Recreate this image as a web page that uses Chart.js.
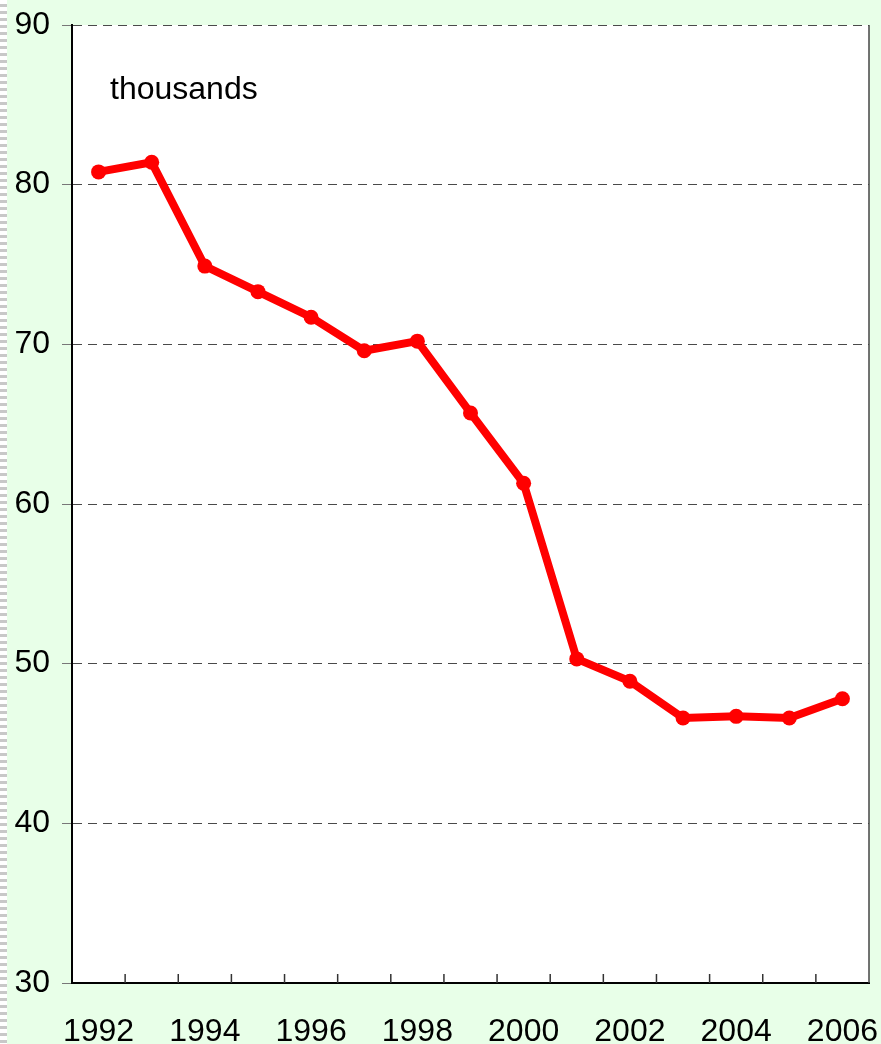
<!DOCTYPE html>
<html>
<head>
<meta charset="utf-8">
<script src="https://cdn.jsdelivr.net/npm/chart.js@4.4.0/dist/chart.umd.min.js"></script>
<style>
  body { margin: 0; background: #e8ffe8; }
  #wrap { position: relative; width: 881px; height: 1044px; }
  #strip {
    position: absolute; left: 0; top: 0; width: 7px; height: 1044px;
    background: repeating-linear-gradient(to bottom, #fff 0px, #fff 4px, #c8c8c8 4px, #c8c8c8 7px);
  }
  canvas { position: absolute; left: 0; top: 0; }
</style>
</head>
<body>
<div id="wrap">
  <div id="strip"></div>
  <canvas id="grafico" width="881" height="1044"></canvas>
</div>
<script>
const anos = ['1992', '1993', '1994', '1995', '1996', '1997', '1998', '1999',
  '2000', '2001', '2002', '2003', '2004', '2005', '2006'];
const valores = [80.8, 81.4, 74.9, 73.3, 71.7, 69.6, 70.2, 65.7,
  61.3, 50.3, 48.9, 46.6, 46.7, 46.6, 47.8];
const yMin = 30;
const yMax = 90;
const yPasso = 10;
const unidade = 'thousands';

const fonte = "'Liberation Sans', Arial, sans-serif";

// fundo branco da area do grafico, borda direita e marcas internas do eixo x
const moldura = {
  id: 'moldura',
  beforeDraw(chart) {
    const { ctx, chartArea } = chart;
    ctx.save();
    ctx.fillStyle = '#fff';
    ctx.fillRect(chartArea.left, chartArea.top, chartArea.right - chartArea.left, chartArea.bottom - chartArea.top);
    ctx.restore();
  },
  afterDraw(chart) {
    const { ctx, chartArea } = chart;
    const x = chart.scales.x;
    ctx.save();
    ctx.strokeStyle = '#444';
    ctx.lineWidth = 1.5;
    ctx.beginPath();
    ctx.moveTo(chartArea.right, chartArea.top);
    ctx.lineTo(chartArea.right, chartArea.bottom);
    ctx.stroke();
    ctx.strokeStyle = '#333';
    ctx.lineWidth = 1.5;
    for (let i = 1; i < anos.length; i++) {
      const px = (x.getPixelForValue(i - 1) + x.getPixelForValue(i)) / 2;
      ctx.beginPath();
      ctx.moveTo(px, chartArea.bottom - 9);
      ctx.lineTo(px, chartArea.bottom);
      ctx.stroke();
    }
    ctx.fillStyle = '#000';
    ctx.font = '32px ' + fonte;
    ctx.textBaseline = 'middle';
    ctx.fillText(unidade, chartArea.left + 38, chartArea.top + 65);
    ctx.restore();
  }
};

const grafico = new Chart(document.querySelector('#grafico'), {
  type: 'line',
  data: {
    labels: anos,
    datasets: [{
      label: unidade,
      data: valores,
      borderColor: '#ff0000',
      backgroundColor: '#ff0000',
      borderWidth: 8,
      pointRadius: 7.5,
      pointHoverRadius: 7.5,
      pointBorderWidth: 0,
      tension: 0
    }]
  },
  options: {
    responsive: false,
    animation: false,
    layout: { padding: { top: 25, right: 12, left: 0, bottom: 0 } },
    plugins: {
      legend: { display: false },
      tooltip: { enabled: false }
    },
    scales: {
      x: {
        offset: true,
        grid: { display: false, offset: true },
        border: { display: true, color: '#000', width: 2 },
        ticks: {
          autoSkip: false,
          maxRotation: 0,
          padding: 22,
          color: '#000',
          font: { family: fonte, size: 32 },
          callback: (v, i) => (i % 2 === 0 ? anos[i] : '')
        },
        afterFit: (s) => {
          s.height = 61;
          s.paddingLeft = 0;
          s.paddingRight = 0;
        }
      },
      y: {
        min: yMin,
        max: yMax,
        ticks: {
          stepSize: yPasso,
          padding: 12,
          color: '#000',
          font: { family: fonte, size: 32 }
        },
        grid: {
          color: '#4a4a4a',
          lineWidth: 1,
          tickLength: 10,
          tickColor: '#777'
        },
        border: { display: true, color: '#000', width: 2, dash: [9, 6] },
        afterFit: (s) => {
          s.width = 72;
          s.paddingTop = 0;
          s.paddingBottom = 0;
        }
      }
    }
  },
  plugins: [moldura]
});
</script>
</body>
</html>
